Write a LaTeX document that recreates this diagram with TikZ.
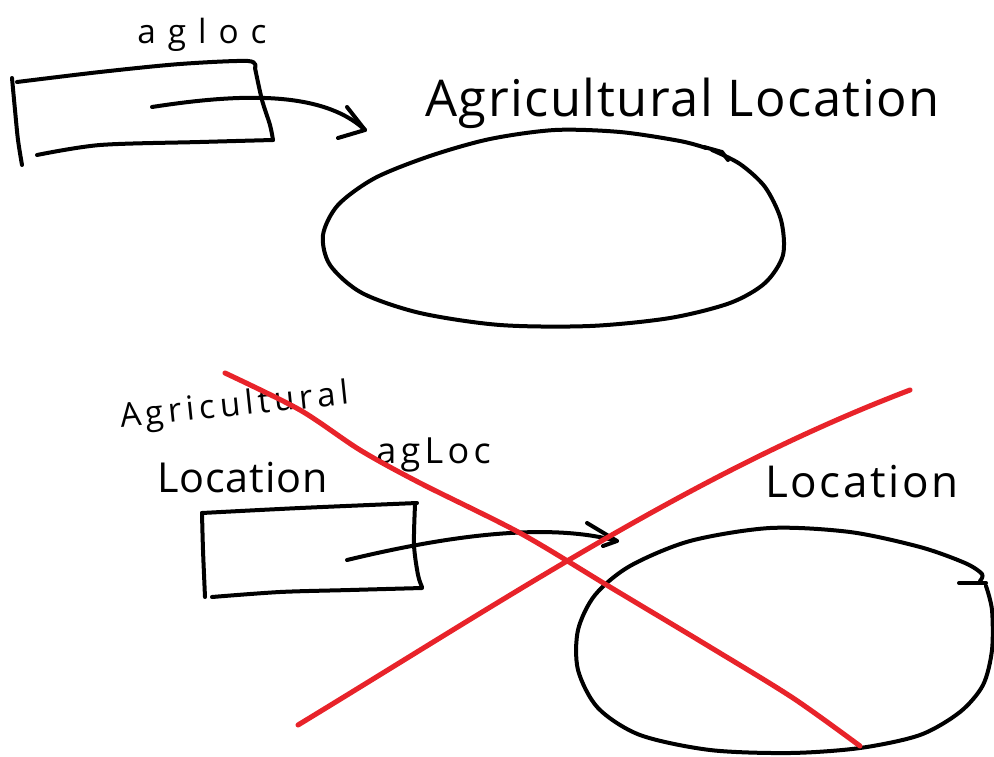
\documentclass[tikz,border=0pt]{standalone}
\usepackage{fontspec}
\newfontfamily\hand{Open Sans}
\definecolor{penred}{HTML}{E8232A}
\tikzset{
  ink/.style={line width=3pt, line cap=round, line join=round, black},
  redink/.style={line width=3.8pt, line cap=round, line join=round, penred},
  script/.style={inner sep=0pt, anchor=base west, font=\hand},
}
\begin{document}
\begin{tikzpicture}[x=0.75pt, y=-0.75pt]
\useasboundingbox (0,0) rectangle (994,756);

% ---------- upper sketch ----------
\node[script, font=\hand\fontsize{25}{25}\selectfont\addfontfeatures{LetterSpace=36}] (lbl1) at (137,44) {agloc};
\node[script, font=\hand\fontsize{38}{38}\selectfont\addfontfeatures{LetterSpace=3}] (title1) at (425,117) {Agricultural Location};

% box
\draw[ink] plot[smooth] coordinates {(12,78) (15,110) (18,140) (22,165)};
\draw[ink] plot[smooth] coordinates {(17,82) (100,72) (180,64) (248,61) (255,68)};
\draw[ink] plot[smooth] coordinates {(255,68) (262,100) (270,125) (273,140)};
\draw[ink] plot[smooth] coordinates {(273,140) (200,142) (100,145) (37,155)};

% arrow
\coordinate (a1s) at (152,107);
\coordinate (a1e) at (365,130);
\draw[ink] (a1s) .. controls (230,95) and (320,88) .. (a1e);
\draw[ink] (347,107) -- (a1e) -- (338,138);

% oval
\draw[ink] plot[smooth] coordinates {(712,150) (740,164) (765,187) (781,220) (783,255)
  (765,283) (730,303) (670,318) (590,326) (500,325) (420,313) (362,293) (330,265)
  (323,235) (338,205) (375,178) (430,156) (490,139) (555,130) (620,132) (680,141) (706,148)};
\draw[ink] (704,147) -- (722,152) -- (728,160);

% ---------- lower sketch ----------
\node[script, rotate=6, font=\hand\fontsize{25}{25}\selectfont\addfontfeatures{LetterSpace=14}] (lbl2) at (121,428) {Agricultural};
\node[script, font=\hand\fontsize{31}{31}\selectfont\addfontfeatures{LetterSpace=2}] (lbl3) at (157,492) {Location};
\node[script, font=\hand\fontsize{27}{27}\selectfont\addfontfeatures{LetterSpace=12}] (lbl4) at (376,463) {agLoc};
\node[script, font=\hand\fontsize{33}{33}\selectfont\addfontfeatures{LetterSpace=6}] (title2) at (765,497) {Location};

% box
\draw[ink] plot[smooth] coordinates {(202,513) (203,550) (205,597)};
\draw[ink] plot[smooth] coordinates {(202,513) (300,508) (417,503)};
\draw[ink] plot[smooth] coordinates {(415,505) (414,545) (418,575) (422,587)};
\draw[ink] plot[smooth] coordinates {(422,588) (350,590) (280,592) (212,597)};

% arrow
\coordinate (a2s) at (347,560);
\coordinate (a2e) at (617,541);
\draw[ink] (a2s) .. controls (430,540) and (540,520) .. (a2e);
\draw[ink] (587,523) -- (a2e) -- (603,546);

% oval
\draw[ink] plot[smooth] coordinates {(986,586) (992,610) (992,650) (983,685) (960,712)
  (920,735) (860,748) (790,753) (710,750) (640,735) (598,708) (578,670) (578,630)
  (595,595) (630,566) (690,541) (770,528) (850,532) (920,547) (965,563) (982,574) (980,581)};
\draw[ink] (959,583) -- (986,583);

% cross
\draw[redink] plot[smooth] coordinates {(225,373) (300,410) (360,450) (420,483)
  (520,533) (610,587) (710,647) (793,698) (860,746)};
\draw[redink] (298,725) .. controls (520,590) and (700,470) .. (910,390);

\end{tikzpicture}
\end{document}
